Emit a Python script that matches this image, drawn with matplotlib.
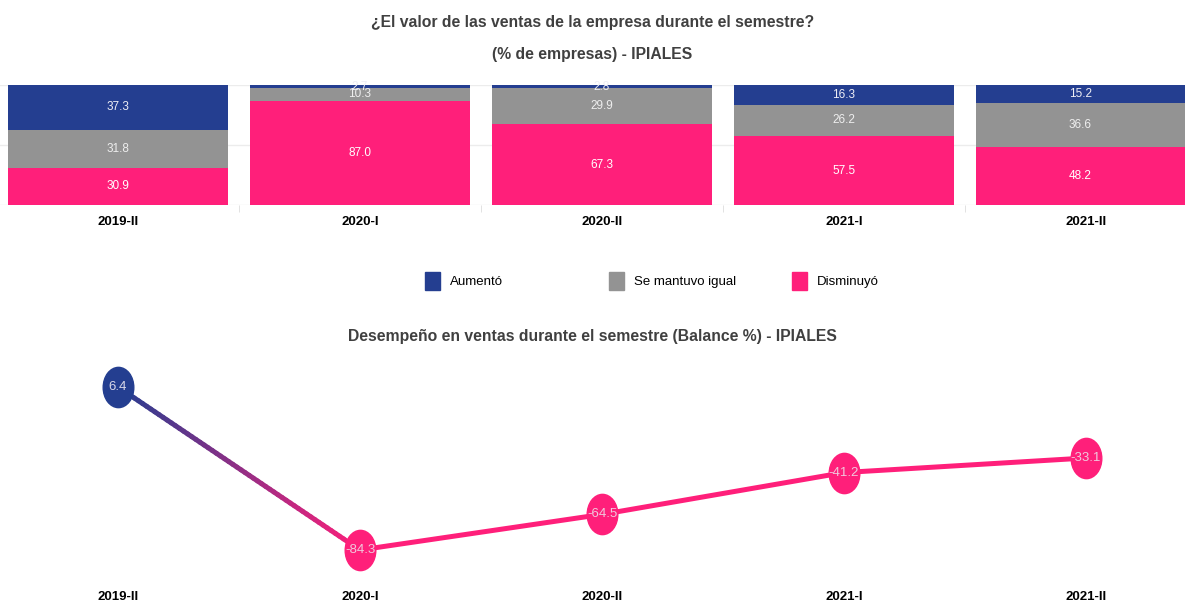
import numpy as np
import matplotlib
matplotlib.use("Agg")
import matplotlib.pyplot as plt
from matplotlib.patches import Rectangle
from matplotlib.collections import LineCollection
from matplotlib.colors import to_rgb
from matplotlib.path import Path
from matplotlib.transforms import Affine2D

plt.rcParams['font.family'] = ['Liberation Sans', 'DejaVu Sans']

# datos
periodos = ["2019-II", "2020-I", "2020-II", "2021-I", "2021-II"]
aumento = [37.3, 2.7, 2.8, 16.3, 15.2]
igual = [31.8, 10.3, 29.9, 26.2, 36.6]
disminuyo = [30.9, 87.0, 67.3, 57.5, 48.2]
balance = [6.4, -84.3, -64.5, -41.2, -33.1]
leyenda = ["Aumentó", "Se mantuvo igual", "Disminuyó"]

azul = "#243E90"
gris = "#939393"
rosa = "#FF1F7A"
txt = "#404040"

fig = plt.figure(figsize=(11.85, 6.04), dpi=100)
x = np.arange(len(periodos))
# pixel -> data: (p - 118) / 242
xl = (0 - 118) / 242
xr = (1185 - 118) / 242

# ---- barras apiladas ----
ax = fig.add_axes([0, (604 - 205) / 604, 1, 120 / 604])
w = 220 / 242
b1 = ax.bar(x, disminuyo, w, color=rosa)
b2 = ax.bar(x, igual, w, bottom=disminuyo, color=gris)
base = np.array(disminuyo) + np.array(igual)
b3 = ax.bar(x, aumento, w, bottom=base, color=azul)
ax.bar_label(b1, fmt="%.1f", label_type="center", color="white", fontsize=8.5)
ax.bar_label(b2, fmt="%.1f", label_type="center", color="#EEEEEE", fontsize=8.5)
ax.bar_label(b3, fmt="%.1f", label_type="center", color="#EEEEF5", fontsize=8.5)
ax.set_xlim(xl, xr)
ax.set_ylim(0, 100)
ax.set_yticks([0, 50, 100])
ax.yaxis.grid(True, color="#ECECEC", lw=1)
ax.set_axisbelow(True)
ax.tick_params(axis="y", left=False, labelleft=False)
ax.set_xticks(x)
ax.set_xticklabels(periodos, fontsize=9.5, fontweight="bold", color="black")
ax.set_xticks(x[:-1] + 0.5, minor=True)
ax.tick_params(axis="x", which="major", length=0, pad=8)
ax.tick_params(axis="x", which="minor", length=5, color="#DDDDDD")
for s in ax.spines.values():
    s.set_visible(False)

fig.text(0.5, 1 - 22 / 604, "¿El valor de las ventas de la empresa durante el semestre?",
         ha="center", va="center", fontsize=11.3, fontweight="bold", color=txt)
fig.text(0.5, 1 - 55 / 604, "(% de empresas) - IPIALES",
         ha="center", va="center", fontsize=11.3, fontweight="bold", color=txt)

# leyenda manual (columnas de ancho fijo)
for i, (lab, c) in enumerate(zip(leyenda, [azul, gris, rosa])):
    x0 = 425 + i * 183.5
    fig.patches.append(Rectangle((x0 / 1185, 1 - 290 / 604), 15 / 1185, 18 / 604,
                                 transform=fig.transFigure, color=c))
    fig.text((x0 + 25) / 1185, 1 - 282 / 604, lab, ha="left", va="center",
             fontsize=9.5, color="black")

# ---- linea de balance ----
ax2 = fig.add_axes([0, (604 - 570) / 604, 1, 200 / 604])
ax2.set_xlim(xl, xr)
ax2.set_ylim(6.4 - (570 - 387) / 1.797, 6.4 - (370 - 387) / 1.797)

# primer tramo con degradado azul -> rosa
t = np.linspace(0, 1, 60)
px = x[0] + (x[1] - x[0]) * t
py = balance[0] + (balance[1] - balance[0]) * t
segs = np.stack([np.column_stack([px[:-1], py[:-1]]), np.column_stack([px[1:], py[1:]])], axis=1)
c0, c1 = np.array(to_rgb(azul)), np.array(to_rgb(rosa))
cols = [tuple(c0 + (c1 - c0) * v) for v in t[:-1]]
ax2.add_collection(LineCollection(segs, colors=cols, linewidths=3.6, capstyle="round"))
ax2.plot(x[1:], balance[1:], color=rosa, lw=3.6, solid_capstyle="round")

elipse = Path.unit_circle().transformed(Affine2D().scale(0.76, 1.0))
for i, v in enumerate(balance):
    c = azul if i == 0 else rosa
    ax2.plot(x[i], v, marker=elipse, ms=29, color=c, zorder=3, ls="none", clip_on=False)
    ax2.text(x[i], v, "%.1f" % v, ha="center", va="center", fontsize=9.5,
             color="#D8D8E8" if i == 0 else "#F0C8DC", zorder=4)

ax2.set_xticks(x)
ax2.set_xticklabels(periodos, fontsize=9.5, fontweight="bold", color="black")
ax2.tick_params(axis="x", length=0, pad=15)
ax2.tick_params(axis="y", left=False, labelleft=False)
for s in ax2.spines.values():
    s.set_visible(False)

fig.text(0.5, 1 - 336 / 604, "Desempeño en ventas durante el semestre (Balance %) - IPIALES",
         ha="center", va="center", fontsize=11.3, fontweight="bold", color=txt)

fig.savefig("out.png", dpi=100)
